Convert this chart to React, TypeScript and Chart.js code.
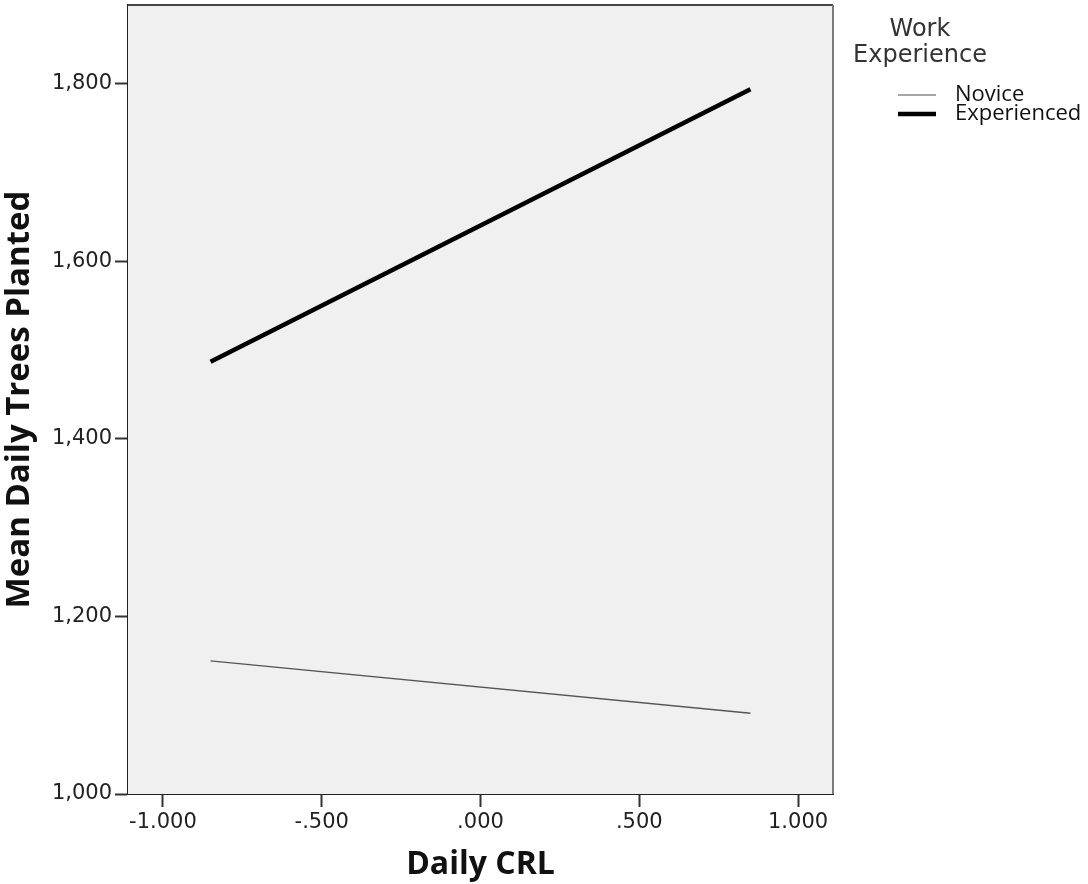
import { useEffect, useRef } from "react";
import { Chart, registerables } from "chart.js";

Chart.register(...registerables);

const crlValues = [-0.85, 0.85];
const noviceMeans = [1150, 1091];
const experiencedMeans = [1487, 1794];
const seriesLabels = ["Novice", "Experienced"];
const xTickValues = [-1, -0.5, 0, 0.5, 1];
const yTickValues = [1000, 1200, 1400, 1600, 1800];
const legendTitle = ["Work", "Experience"];
const xTitle = "Daily CRL";
const yTitle = "Mean Daily Trees Planted";

const fmtX = (v: number) => {
  const s = Math.abs(v).toFixed(3);
  const t = s.startsWith("0") ? s.slice(1) : s;
  return (v < 0 ? "-" : "") + t;
};
const fmtY = (v: number) => Number(v).toLocaleString("en-US");

const framePlugin = {
  id: "frame",
  beforeDatasetsDraw(chart: any) {
    const { ctx, chartArea: a } = chart;
    ctx.save();
    ctx.fillStyle = "#f0f0f0";
    ctx.fillRect(a.left, a.top, a.right - a.left, a.bottom - a.top);
    ctx.restore();
  },
  afterDraw(chart: any) {
    const { ctx, chartArea: a } = chart;
    ctx.save();
    ctx.lineWidth = 2;
    ctx.strokeStyle = "#444";
    ctx.beginPath();
    ctx.moveTo(a.left, a.top);
    ctx.lineTo(a.right, a.top);
    ctx.stroke();
    ctx.strokeStyle = "#7a7a7a";
    ctx.beginPath();
    ctx.moveTo(a.right, a.top);
    ctx.lineTo(a.right, a.bottom);
    ctx.stroke();
    ctx.restore();
  },
};

const legendPlugin = {
  id: "customLegend",
  afterDraw(chart: any) {
    const { ctx } = chart;
    ctx.save();
    ctx.fillStyle = "#333";
    ctx.font = "24px 'DejaVu Sans'";
    ctx.textAlign = "center";
    ctx.textBaseline = "alphabetic";
    ctx.fillText(legendTitle[0], 920, 36);
    ctx.fillText(legendTitle[1], 920, 62);
    const rows = [101, 120];
    const lineYs = [95, 114];
    chart.data.datasets.forEach((ds: any, i: number) => {
      ctx.strokeStyle = ds.legendColor || ds.borderColor;
      ctx.lineWidth = ds.borderWidth;
      ctx.beginPath();
      ctx.moveTo(898, lineYs[i]);
      ctx.lineTo(936, lineYs[i]);
      ctx.stroke();
      ctx.fillStyle = "#111";
      ctx.font = "22px 'Open Sans'";
      ctx.textAlign = "left";
      ctx.fillText(ds.label, 955, rows[i]);
    });
    ctx.restore();
  },
};

export default function App() {
  const ref = useRef<HTMLCanvasElement | null>(null);
  useEffect(() => {
    if (!ref.current) return;
    const chart = new Chart(ref.current, {
      type: "line",
      data: {
        datasets: [
          {
            label: seriesLabels[0],
            data: crlValues.map((x, i) => ({ x, y: noviceMeans[i] })),
            borderColor: "#555",
            legendColor: "#888",
            borderWidth: 1.5,
            pointRadius: 0,
            tension: 0,
          } as any,
          {
            label: seriesLabels[1],
            data: crlValues.map((x, i) => ({ x, y: experiencedMeans[i] })),
            borderColor: "#000",
            borderWidth: 4.5,
            pointRadius: 0,
            tension: 0,
          },
        ],
      },
      options: {
        animation: false,
        responsive: false,
        maintainAspectRatio: false,
        layout: { padding: { top: 5, right: 255, left: 0, bottom: 0 } },
        plugins: { legend: { display: false }, tooltip: { enabled: false } },
        scales: {
          x: {
            type: "linear",
            min: -1.11,
            max: 1.11,
            afterBuildTicks: (s: any) => {
              s.ticks = xTickValues.map((v) => ({ value: v }));
            },
            afterFit: (s: any) => {
              s.height = 90;
              s.paddingLeft = 0;
              s.paddingRight = 0;
            },
            ticks: {
              callback: (v: any) => fmtX(Number(v)),
              font: { family: "'DejaVu Sans'", size: 21 },
              color: "#222",
              padding: 3,
              maxRotation: 0,
            },
            grid: { drawOnChartArea: false, tickLength: 13, tickWidth: 2, color: "#333" },
            border: { display: true, color: "#222", width: 2 },
            title: {
              display: true,
              text: xTitle,
              font: { family: "'Open Sans'", size: 32, weight: "bold", lineHeight: 1 },
              color: "#111",
              padding: { top: 0, bottom: 3 },
            },
          },
          y: {
            type: "linear",
            min: 1000,
            max: 1889,
            afterBuildTicks: (s: any) => {
              s.ticks = yTickValues.map((v) => ({ value: v }));
            },
            afterFit: (s: any) => {
              s.width = 128;
              s.paddingTop = 0;
              s.paddingBottom = 0;
            },
            ticks: {
              callback: (v: any) => fmtY(Number(v)),
              font: { family: "'DejaVu Sans'", size: 21 },
              color: "#222",
              padding: 3,
            },
            grid: { drawOnChartArea: false, tickLength: 13, tickWidth: 2, color: "#333" },
            border: { display: true, color: "#222", width: 2 },
            title: {
              display: true,
              text: yTitle,
              font: { family: "'Open Sans'", size: 33, weight: "bold", lineHeight: 1 },
              color: "#111",
              padding: { top: 3, bottom: 0 },
            },
          },
        },
      },
      plugins: [framePlugin, legendPlugin],
    });
    return () => chart.destroy();
  }, []);
  return (
    <div style={{ position: "fixed", left: 0, top: 0, width: 1088, height: 884, background: "#fff" }}>
      <canvas ref={ref} width={1088} height={884} />
    </div>
  );
}
